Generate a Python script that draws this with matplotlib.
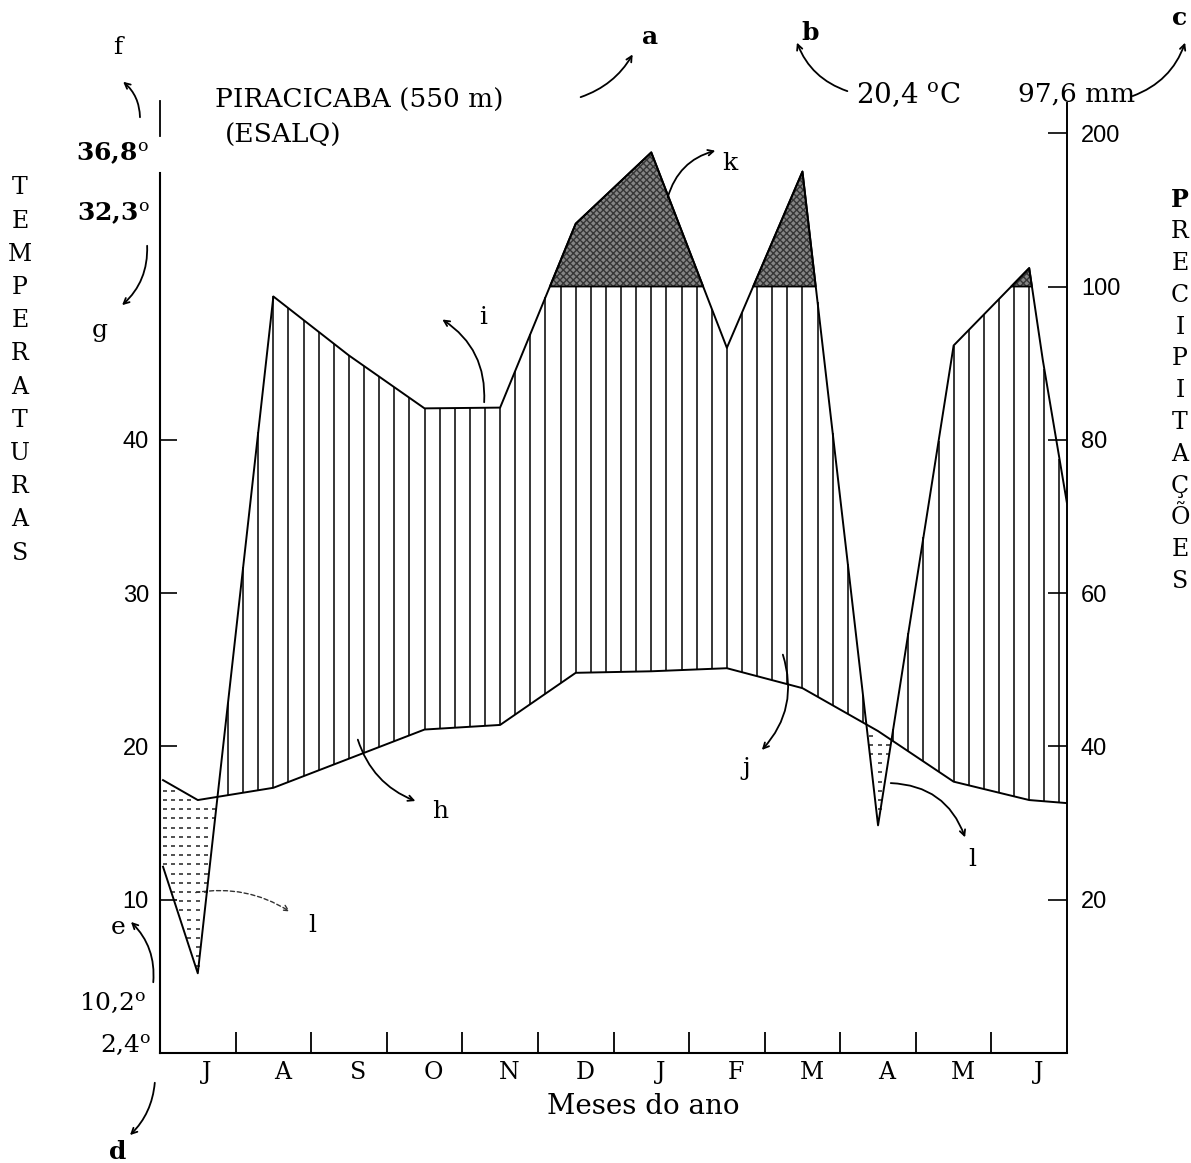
'''
Diagrama climatico (Walter-Lieth) de Piracicaba (ESALQ)
'''

import numpy as np
import matplotlib.pyplot as plt

W, H = 1191, 1163

# meses (jul a jun) e posicoes das leituras no eixo x (em meses)
months = ['J', 'A', 'S', 'O', 'N', 'D', 'J', 'F', 'M', 'A', 'M', 'J']
temp_x = [0.04, 0.5, 1.5, 2.5, 3.5, 4.5, 5.5, 6.5, 7.5, 8.5, 9.5, 10.5, 11.5, 12.0]
temp_c = [17.8, 16.5, 17.3, 19.2, 21.1, 21.4, 24.8, 24.9, 25.1, 23.8, 21.0, 17.7, 16.5, 16.3]
prec_x = [0.04, 0.5, 1.5, 2.5, 3.5, 4.5, 5.5, 6.5, 7.5, 8.5, 9.5, 10.5, 11.5, 11.68, 12.0]
prec_mm = [24.3, 10.4, 98.7, 91.0, 84.1, 84.2, 141, 187.5, 92, 175, 29.7, 92.3, 112, 90.4, 71.7]

temp_ticks = [10, 20, 30, 40]
prec_ticks = [20, 40, 60, 80, 100, 200]


def p2y(p):
    # 10 C = 20 mm ate 100 mm, acima disso escala reduzida 1:10
    p = np.asarray(p, dtype=float)
    return np.where(p <= 100, p / 2., 50. + (p - 100.) / 10.)


def fp(x, y):
    # posicao em pixels medida a partir do topo
    return (x, H - y)


plt.rcParams['mathtext.fontset'] = 'dejavuserif'
serif = 'DejaVu Serif'
sans = 'Liberation Sans'

fig = plt.figure(figsize=(W / 100., H / 100.), dpi=100)
fig.patch.set_facecolor('white')
unit = 15.33
ax = fig.add_axes([160. / W, (H - 1053.) / H, 907. / W, 62 * unit / H])
ax.set_xlim(0, 12)
ax.set_ylim(0, 62)

tx = np.array(temp_x)
ty = np.array(temp_c)
px_ = np.array(prec_x)
py = p2y(prec_mm)

# periodo superumido (> 100 mm)
ax.fill_between(px_, py, 50, where=py > 50, interpolate=True,
                facecolor='#858585', hatch='xxxxx', edgecolor='#363636',
                linewidth=0, zorder=1)
ax.fill_between(px_, py, 50, where=py > 50, interpolate=True,
                facecolor='none', edgecolor='black', linewidth=1.3, zorder=3)

# periodo umido: tracos verticais
hx = np.arange(0.1, 12, 0.2)
lo = np.interp(hx, tx, ty)
hi = np.minimum(np.interp(hx, px_, py), 50)
ok = hi > lo + 0.2
ax.vlines(hx[ok], lo[ok], hi[ok], color='black', lw=1.1, zorder=2)

# periodo seco: pontilhado
gx, gy = np.meshgrid(np.arange(0.06, 12, 0.11), np.arange(0.3, 45, 0.6))
gt = np.interp(gx, tx, ty)
gp = np.interp(gx, px_, py)
dry = (gy < gt - 0.3) & (gy > gp + 0.3)
ax.plot(gx[dry], gy[dry], ls='none', marker='_', ms=3.5, mew=1.2,
        color='#333333', zorder=2)

ax.plot(tx, ty, color='black', lw=1.4, zorder=4)
ax.plot(px_, py, color='black', lw=1.4, zorder=4)

# eixos
for s in ['top', 'right']:
    ax.spines[s].set_visible(False)
ax.spines['left'].set_bounds(0, 57.4)
ax.spines['left'].set_linewidth(1.5)
ax.spines['bottom'].set_linewidth(1.5)
ax.plot([0, 0], [59.8, 62.1], color='black', lw=1.3, clip_on=False)

ax.set_yticks(temp_ticks)
ax.set_yticklabels([str(t) for t in temp_ticks], fontsize=17, family=sans)
ax.tick_params(axis='y', direction='in', length=12, width=1.2, pad=8)

ax.set_xticks(range(1, 12))
ax.set_xticklabels([])
ax.tick_params(axis='x', which='major', direction='in', length=15, width=1.3)
ax.set_xticks(np.arange(12) + 0.62, minor=True)
ax.set_xticklabels(months, minor=True, fontsize=17, family=serif)
ax.tick_params(axis='x', which='minor', length=0, pad=6)

ax2 = ax.twinx()
ax2.set_ylim(0, 62)
for s in ['top', 'left', 'bottom']:
    ax2.spines[s].set_visible(False)
ax2.spines['right'].set_linewidth(1.4)
ax2.set_yticks(p2y(prec_ticks))
ax2.set_yticklabels([str(p) for p in prec_ticks], fontsize=17, family=sans)
ax2.tick_params(axis='y', direction='in', length=14, width=1.2, pad=10)

# textos
fig.text(215 / W, 1 - 100. / H, 'PIRACICABA (550 m)', fontsize=19,
         family=serif, va='center', ha='left')
fig.text(225 / W, 1 - 135. / H, '(ESALQ)', fontsize=19,
         family=serif, va='center', ha='left')
fig.text(856 / W, 1 - 95. / H, r'20,4 $^{\mathrm{o}}$C', fontsize=20,
         family=serif, va='center', ha='left')
fig.text(1018 / W, 1 - 94. / H, '97,6 mm', fontsize=19,
         family=serif, va='center', ha='left')
fig.text(643 / W, 1 - 1107. / H, 'Meses do ano', fontsize=20,
         family=serif, va='center', ha='center')

for x, y, s in [(112, 153, r'36,8$^{\mathrm{o}}$'), (113, 213, r'32,3$^{\mathrm{o}}$'),
                (113, 1003, r'10,2$^{\mathrm{o}}$'), (126, 1045, r'2,4$^{\mathrm{o}}$')]:
    fig.text(x / W, 1 - y / H, s, fontsize=18, family=serif,
             va='center', ha='center',
             weight='bold' if y < 300 else 'normal')

for i, ch in enumerate('TEMPERATURAS'):
    fig.text(20 / W, 1 - (188 + 33.2 * i) / H, ch, fontsize=17,
             family=serif, va='center', ha='center')
for i, ch in enumerate('PRECIPITAÇÕES'):
    fig.text(1180 / W, 1 - (200 + 31.8 * i) / H, ch, fontsize=17,
             family=serif, va='center', ha='center',
             weight='bold' if i == 0 else 'normal')

letters = [('a', 650, 37, 'bold'), ('b', 810, 33, 'bold'), ('c', 1180, 18, 'bold'),
           ('f', 118, 47, 'normal'), ('g', 100, 330, 'normal'),
           ('d', 118, 1152, 'bold'), ('e', 118, 928, 'normal'),
           ('h', 440, 812, 'normal'), ('i', 483, 318, 'normal'),
           ('j', 746, 768, 'normal'), ('k', 730, 163, 'normal'),
           ('l', 312, 925, 'normal'), ('l', 972, 860, 'normal')]
for s, x, y, w in letters:
    fig.text(x / W, 1 - y / H, s, fontsize=18, family=serif, weight=w,
             va='center', ha='center')

# setas curvas (cauda -> cabeca)
arrows = [((140, 120), (121, 80), 0.25), ((147, 243), (120, 307), -0.25),
          ((578, 98), (634, 52), 0.2), ((850, 92), (796, 40), -0.25),
          ((1130, 97), (1186, 40), 0.25), ((155, 1080), (128, 1137), -0.2),
          ((153, 985), (129, 920), 0.25), ((357, 737), (418, 802), 0.25),
          ((484, 405), (440, 318), 0.3), ((782, 652), (760, 752), -0.3),
          ((667, 200), (718, 150), -0.3), ((888, 783), (966, 840), -0.35)]
for tail, head, rad in arrows:
    ax.annotate('', xy=fp(*head), xytext=fp(*tail), xycoords='figure pixels',
                textcoords='figure pixels',
                arrowprops=dict(arrowstyle='->', lw=1.3, color='black',
                                connectionstyle='arc3,rad=%s' % rad))
ax.annotate('', xy=fp(292, 913), xytext=fp(193, 893), xycoords='figure pixels',
            textcoords='figure pixels',
            arrowprops=dict(arrowstyle='->', lw=1.0, color='#333333', ls=(0, (3, 2)),
                            connectionstyle='arc3,rad=-0.2'))

fig.savefig('out.png', dpi=100)
